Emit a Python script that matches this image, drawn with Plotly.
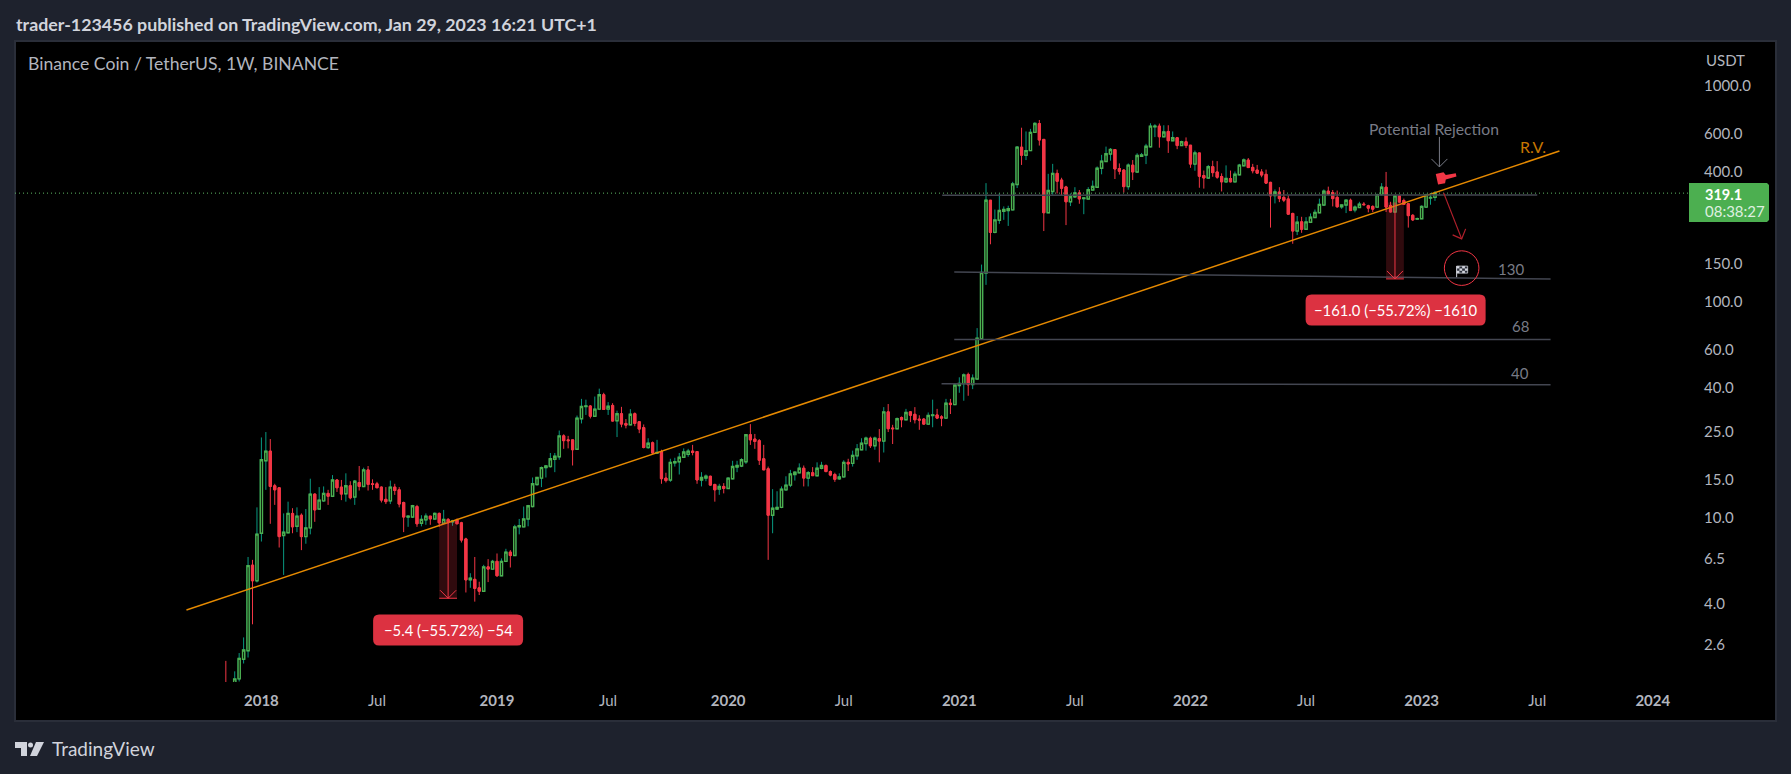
import math
import pandas as pd
import plotly.graph_objects as go

## weekly BNB/USDT candles, first bar is the week of 2017-11-06
dates = pd.date_range("2017-11-06", periods=273, freq="7D")

opens = [
    1.70, 1.50, 1.62, 1.80, 2.22, 2.43, 6.05, 5.12, 8.50, 18.4,
    20.4, 14.1, 13.8, 8.30, 8.55, 10.5, 9.15, 10.3, 8.20, 9.00,
    12.9, 11.0, 12.0, 13.0, 12.6, 15.0, 13.9, 12.95, 14.1, 12.5,
    14.6, 14.0, 16.7, 14.4, 14.4, 13.9, 12.2, 12.0, 13.9, 13.5,
    11.8, 10.1, 10.1, 11.3, 9.45, 9.80, 10.2, 9.90, 10.5, 9.45,
    9.85, 9.60, 9.80, 9.50, 8.00, 5.17, 5.20, 4.75, 4.58, 5.94,
    5.80, 6.30, 5.40, 6.30, 6.95, 6.70, 9.10, 9.10, 9.90, 11.3,
    14.3, 15.3, 17.1, 17.3, 18.7, 19.2, 24.0, 23.0, 23.0, 20.8,
    28.8, 32.8, 33.0, 29.6, 31.9, 37.2, 31.9, 33.2, 28.2, 30.4,
    27.4, 27.0, 30.4, 27.9, 26.2, 21.2, 22.3, 20.0, 20.3, 15.3,
    15.0, 18.0, 18.2, 19.1, 19.7, 20.4, 20.3, 15.0, 15.3, 15.6,
    14.3, 13.6, 14.0, 13.7, 15.2, 17.2, 17.4, 18.2, 24.3, 23.2,
    22.8, 18.8, 16.9, 10.3, 11.0, 11.2, 13.5, 14.2, 15.9, 16.2,
    17.0, 15.3, 16.2, 15.7, 17.0, 17.5, 16.4, 15.9, 15.2, 15.5,
    18.1, 17.9, 19.4, 20.7, 22.1, 23.4, 21.6, 23.3, 22.7, 31.0,
    26.1, 25.9, 29.2, 28.5, 31.0, 30.2, 28.7, 28.7, 27.2, 29.8,
    30.0, 29.4, 29.0, 34.0, 33.5, 41.0, 41.9, 46.2, 41.5, 44.0,
    67.6, 136, 296, 210, 239, 263, 265, 267, 350, 521,
    478, 502, 610, 670, 566, 259, 325, 394, 367, 341,
    291, 307, 320, 301, 300, 330, 340, 416, 447, 484,
    508, 415, 408, 342, 430, 400, 472, 479, 523, 648,
    652, 582, 616, 558, 576, 530, 552, 532, 435, 490,
    385, 375, 423, 400, 381, 360, 373, 360, 388, 427,
    454, 420, 408, 400, 390, 358, 311, 323, 305, 300,
    257, 213, 235, 217, 234, 246, 259, 281, 326, 321,
    305, 276, 281, 296, 267, 274, 284, 279, 277, 275,
    314, 340, 280, 261, 310, 295, 285, 252, 242, 243,
    275, 303, 305,
]
highs = [
    2.18, 1.70, 1.95, 2.37, 2.80, 6.60, 6.40, 11.2, 23.6, 25.0,
    23.2, 14.4, 13.9, 10.5, 11.9, 11.1, 11.2, 10.5, 11.0, 15.2,
    13.0, 13.9, 14.0, 13.5, 15.8, 15.1, 15.0, 16.1, 14.8, 15.0,
    17.4, 17.1, 17.4, 15.1, 14.7, 14.0, 13.9, 14.9, 14.4, 13.9,
    11.9, 10.2, 11.5, 11.5, 10.3, 10.5, 10.2, 10.6, 10.6, 10.9,
    10.0, 9.80, 9.95, 9.60, 8.10, 5.55, 6.60, 5.07, 6.07, 6.45,
    6.40, 6.85, 6.50, 7.20, 7.10, 9.30, 9.90, 11.3, 11.5, 15.4,
    15.5, 17.3, 17.6, 20.0, 20.0, 25.4, 24.4, 24.0, 23.0, 29.8,
    35.6, 35.3, 33.3, 36.5, 39.7, 38.0, 34.4, 34.0, 31.4, 32.7,
    28.7, 31.9, 30.8, 28.0, 27.1, 23.4, 22.6, 23.0, 20.7, 16.2,
    18.8, 19.0, 20.0, 21.0, 20.9, 21.8, 20.3, 16.3, 15.9, 15.7,
    14.4, 14.4, 14.5, 15.4, 18.4, 18.4, 18.9, 24.4, 27.2, 24.5,
    23.2, 21.8, 17.3, 13.6, 13.3, 14.0, 15.6, 16.7, 16.4, 17.9,
    17.5, 16.5, 17.2, 18.1, 18.2, 17.7, 16.6, 16.2, 16.1, 18.5,
    18.8, 20.5, 22.0, 23.4, 23.8, 23.8, 23.8, 25.8, 32.6, 33.7,
    27.0, 29.2, 29.5, 32.0, 31.2, 32.6, 29.9, 29.0, 30.8, 35.3,
    32.0, 29.9, 35.6, 35.6, 42.0, 44.8, 46.7, 47.1, 46.2, 75.7,
    149, 355, 296, 268, 318, 277, 279, 360, 527, 641,
    616, 633, 680, 696, 566, 392, 436, 410, 376, 345,
    318, 340, 330, 305, 340, 365, 424, 480, 524, 516,
    508, 438, 412, 438, 454, 488, 490, 540, 672, 665,
    670, 658, 658, 616, 581, 558, 578, 532, 502, 490,
    406, 431, 451, 449, 394, 429, 406, 402, 436, 462,
    464, 436, 431, 412, 410, 360, 332, 340, 330, 312,
    259, 250, 248, 247, 257, 268, 301, 332, 342, 330,
    328, 282, 298, 301, 280, 291, 290, 282, 280, 317,
    355, 400, 291, 313, 312, 301, 287, 255, 246, 280,
    317, 319, 326,
]
lows = [
    1.30, 1.25, 1.55, 1.75, 2.12, 2.26, 3.22, 5.03, 7.78, 13.5,
    9.40, 11.5, 7.30, 5.45, 8.50, 8.50, 8.60, 7.10, 7.60, 8.40,
    9.60, 10.9, 11.9, 11.5, 12.5, 13.2, 12.1, 11.9, 12.2, 11.5,
    13.4, 13.9, 13.4, 13.5, 13.8, 11.8, 11.6, 11.6, 12.8, 11.2,
    8.60, 9.10, 10.0, 9.10, 9.15, 9.30, 9.30, 9.85, 9.10, 9.40,
    9.40, 9.20, 9.40, 7.70, 4.52, 4.75, 4.10, 4.40, 4.55, 5.05,
    5.80, 5.35, 5.40, 6.25, 5.90, 6.70, 8.40, 9.10, 9.15, 11.2,
    14.1, 13.9, 15.4, 17.1, 16.3, 18.6, 20.9, 21.0, 17.5, 20.7,
    27.4, 30.0, 28.9, 29.5, 31.6, 31.7, 30.0, 28.0, 23.7, 26.3,
    26.0, 26.9, 26.6, 24.7, 21.0, 20.9, 19.8, 19.8, 14.4, 14.6,
    14.7, 17.3, 15.9, 19.0, 19.2, 19.5, 14.4, 14.0, 14.8, 14.1,
    11.9, 12.8, 13.0, 13.7, 15.1, 16.3, 17.2, 17.8, 21.8, 20.9,
    17.6, 16.7, 6.40, 8.50, 10.9, 11.1, 13.4, 13.9, 14.9, 16.1,
    14.0, 14.0, 15.7, 15.6, 16.8, 16.3, 15.6, 14.7, 15.0, 15.4,
    16.5, 17.3, 18.6, 20.6, 20.5, 21.1, 20.7, 18.1, 20.1, 25.0,
    22.0, 25.8, 26.3, 28.4, 27.8, 27.4, 25.6, 27.0, 27.1, 26.3,
    28.7, 26.6, 28.9, 30.3, 33.3, 38.0, 34.9, 36.8, 39.5, 43.8,
    67.0, 120, 185, 208, 230, 240, 225, 266, 337, 431,
    454, 500, 610, 530, 213, 258, 314, 318, 312, 227,
    278, 303, 285, 255, 300, 330, 338, 390, 445, 451,
    371, 389, 321, 331, 367, 397, 469, 435, 520, 580,
    518, 582, 490, 556, 510, 528, 516, 418, 405, 338,
    335, 372, 380, 372, 325, 356, 358, 358, 386, 426,
    417, 394, 394, 378, 353, 221, 286, 290, 290, 254,
    186, 204, 209, 216, 232, 245, 258, 279, 312, 277,
    273, 270, 258, 265, 260, 273, 281, 260, 261, 274,
    312, 261, 260, 260, 289, 282, 221, 237, 241, 242,
    274, 282, 294,
]
closes = [
    1.50, 1.60, 1.80, 2.24, 2.45, 6.02, 5.12, 8.42, 18.6, 20.4,
    14.0, 13.5, 8.20, 8.60, 10.5, 9.10, 10.2, 8.20, 9.00, 12.9,
    10.9, 12.1, 13.0, 12.6, 15.0, 13.8, 12.9, 14.1, 12.4, 14.8,
    14.0, 16.7, 14.3, 14.3, 13.8, 12.1, 11.9, 13.9, 13.4, 11.6,
    10.1, 10.2, 11.4, 9.40, 9.85, 10.2, 9.90, 10.5, 9.50, 9.85,
    9.60, 9.70, 9.40, 7.90, 5.17, 5.27, 4.72, 4.58, 5.94, 5.80,
    6.30, 5.40, 6.30, 6.95, 6.70, 9.10, 9.20, 9.90, 11.4, 14.4,
    15.4, 17.1, 17.4, 18.8, 19.3, 24.0, 22.8, 22.8, 20.7, 29.0,
    32.8, 33.0, 29.6, 31.9, 37.2, 31.8, 32.9, 28.1, 30.4, 27.2,
    26.9, 30.2, 27.4, 25.8, 21.2, 22.2, 20.0, 20.1, 15.2, 14.9,
    18.1, 18.2, 19.1, 20.2, 20.4, 20.1, 15.0, 15.4, 15.6, 14.2,
    13.5, 14.0, 13.7, 15.3, 17.3, 17.5, 18.6, 24.3, 23.0, 22.6,
    18.5, 16.7, 10.3, 11.1, 11.2, 13.6, 14.2, 16.0, 16.3, 17.0,
    15.3, 16.2, 15.7, 17.0, 17.5, 16.4, 15.8, 15.1, 15.5, 18.1,
    17.8, 19.5, 20.9, 22.2, 23.4, 21.6, 23.4, 22.7, 31.0, 25.9,
    25.9, 28.8, 28.5, 30.8, 29.9, 28.5, 28.4, 27.2, 29.8, 30.0,
    29.0, 29.0, 34.0, 33.5, 41.3, 42.0, 46.0, 41.4, 44.4, 67.9,
    137, 296, 210, 240, 265, 268, 270, 352, 521, 478,
    502, 610, 670, 562, 259, 328, 394, 362, 336, 291,
    307, 320, 300, 303, 331, 343, 416, 449, 486, 508,
    413, 403, 342, 430, 400, 477, 480, 526, 652, 652,
    582, 612, 558, 576, 530, 552, 530, 435, 490, 382,
    375, 423, 397, 378, 360, 373, 360, 390, 430, 454,
    419, 405, 395, 387, 355, 310, 323, 301, 296, 255,
    213, 234, 217, 235, 247, 260, 283, 326, 316, 301,
    276, 281, 296, 265, 275, 284, 282, 272, 269, 314,
    340, 275, 261, 310, 290, 283, 251, 240, 243, 277,
    314, 305, 319.1,
]

## axis ticks
date_ticks = ["2018-01-01", "2018-07-02", "2019-01-07", "2019-07-01", "2020-01-06", "2020-07-06", "2021-01-04",
              "2021-07-05", "2022-01-03", "2022-07-04", "2023-01-02", "2023-07-03", "2024-01-01"]
date_labels = ["<b>2018</b>", "Jul", "<b>2019</b>", "Jul", "<b>2020</b>", "Jul", "<b>2021</b>",
               "Jul", "<b>2022</b>", "Jul", "<b>2023</b>", "Jul", "<b>2024</b>"]
price_ticks = [2.6, 4, 6.5, 10, 15, 25, 40, 60, 100, 150, 400, 600, 1000]
price_labels = ["2.6", "4.0", "6.5", "10.0", "15.0", "25.0", "40.0", "60.0", "100.0", "150.0", "400.0", "600.0", "1000.0"]

## drawings on the chart
last_price = 319.1
trend_dates = ["2017-09-05", "2023-08-07"]
trend_prices = [3.75, 500]
level_dates = [["2020-12-08", "2023-07-03"], ["2020-12-27", "2023-07-24"], ["2020-12-27", "2023-07-24"], ["2020-12-07", "2023-07-24"]]
level_prices = [[312, 313], [137.7, 127.8], [67.1, 67.1], [41.8, 41.4]]
measure_dates = [["2018-10-08", "2018-11-05"], ["2022-11-07", "2022-12-05"]]
measure_prices = [[9.6, 4.25], [288.9, 127.9]]
measure_labels = ["\u22125.4 (\u221255.72%) \u221254", "\u2212161.0 (\u221255.72%) \u22121610"]
measure_label_dates = ["2018-10-22", "2022-11-22"]
measure_label_prices = [3.03, 91.9]
measure_label_widths = [150, 180]

BG = "#1e222d"
FONT = "Lato"
GREEN = "#4caf50"
TEAL = "#089981"
RED = "#f23645"

## page geometry, plot area and the black pane around it
W, H = 1791, 774
L, R, T, B = 15, 1689, 41, 682


def px(x):
    return (x - L) / (R - L)


def py(y):
    return (B - y) / (B - T)


def pix_shape(xa, ya, points, close=False, **kw):
    # path given in pixels around a date/price anchor
    path = "M" + " L".join(f"{a} {b}" for a, b in points) + (" Z" if close else "")
    return dict(type="path", path=path, xref="x", yref="y", xsizemode="pixel", ysizemode="pixel",
                xanchor=xa, yanchor=ya, **kw)


def rounded(w, h, r):
    x, y = w / 2, h / 2
    return (f"M{-x+r} {y} L{x-r} {y} Q{x} {y} {x} {y-r} L{x} {-y+r} Q{x} {-y} {x-r} {-y} "
            f"L{-x+r} {-y} Q{-x} {-y} {-x} {-y+r} L{-x} {y-r} Q{-x} {y} {-x+r} {y} Z")


def ring(r):
    k = 0.5523 * r
    return (f"M{r} 0 C{r} {k} {k} {r} 0 {r} C{-k} {r} {-r} {k} {-r} 0 "
            f"C{-r} {-k} {-k} {-r} 0 {-r} C{k} {-r} {r} {-k} {r} 0 Z")


fig = go.Figure()

## teal wicks first, then bodies with the green outline on top of them
fig.add_trace(go.Candlestick(
    x=dates, open=opens, high=highs, low=lows, close=closes, whiskerwidth=0,
    increasing=dict(line=dict(color=TEAL, width=1), fillcolor="rgba(0,0,0,0)"),
    decreasing=dict(line=dict(color=RED, width=1), fillcolor=RED),
    hoverinfo="skip", showlegend=False))
fig.add_trace(go.Candlestick(
    x=dates, open=opens, close=closes, whiskerwidth=0,
    high=[max(a, b) for a, b in zip(opens, closes)],
    low=[min(a, b) for a, b in zip(opens, closes)],
    increasing=dict(line=dict(color=GREEN, width=1.4), fillcolor="#000000"),
    decreasing=dict(line=dict(color=RED, width=1), fillcolor=RED),
    hoverinfo="skip", showlegend=False))

fig.add_trace(go.Scatter(x=trend_dates, y=trend_prices, mode="lines", hoverinfo="skip", showlegend=False,
                         line=dict(color="#e68a00", width=1.5)))

shapes = []

## black pane with its thin border
shapes.append(dict(type="rect", xref="paper", yref="paper", x0=px(15), x1=px(1776), y0=py(41), y1=py(721),
                   fillcolor="#000000", line=dict(color="#2a2e39", width=2), layer="below"))

## last price line
shapes.append(dict(type="line", xref="paper", yref="y", x0=0, x1=1, y0=last_price, y1=last_price,
                   line=dict(color="#5fb864", width=1, dash="1px,3px")))

for d, p in zip(level_dates, level_prices):
    shapes.append(dict(type="line", xref="x", yref="y", x0=d[0], x1=d[1], y0=p[0], y1=p[1],
                       line=dict(color="#434651", width=1.5)))

for d, p in zip(measure_dates, measure_prices):
    shapes.append(dict(type="rect", xref="x", yref="y", x0=d[0], x1=d[1], y0=p[0], y1=p[1],
                       fillcolor="rgba(242,54,69,0.2)", line=dict(width=0)))
    mid = pd.Timestamp(d[0]) + (pd.Timestamp(d[1]) - pd.Timestamp(d[0])) / 2
    shapes.append(dict(type="line", xref="x", yref="y", x0=mid, x1=mid, y0=p[0], y1=p[1],
                       line=dict(color=RED, width=1)))
    shapes.append(dict(type="line", xref="x", yref="y", x0=d[0], x1=d[1], y0=p[1], y1=p[1],
                       line=dict(color=RED, width=1)))
    shapes.append(pix_shape(mid, p[1], [(-8, 8), (0, 0), (8, 8)], line=dict(color=RED, width=1)))

for d, p, w in zip(measure_label_dates, measure_label_prices, measure_label_widths):
    shapes.append(dict(type="path", path=rounded(w, 31, 6), xref="x", yref="y", xsizemode="pixel", ysizemode="pixel",
                       xanchor=d, yanchor=p, fillcolor="#dc3241", line=dict(width=0)))

## gray arrow under the note
shapes.append(pix_shape("2023-01-30", 422, [(0, 30), (0, 0)], line=dict(color="#787b86", width=1)))
shapes.append(pix_shape("2023-01-30", 422, [(-8, 8), (0, 0), (8, 8)], line=dict(color="#787b86", width=1)))

## red flag icon
shapes.append(pix_shape("2023-02-09", 370,
                        [(-10, 5.3), (-2.3, 7), (0, 4.3), (10, 6), (10.7, 2.7), (0, -0.3), (-0.7, -4), (-7.7, -5.3)],
                        close=True, fillcolor=RED, line=dict(width=0)))

## projected move arrow
shapes.append(pix_shape("2023-03-06", 196, [(-18, 46), (0, 0)], line=dict(color="#b2202c", width=1.2)))
shapes.append(pix_shape("2023-03-06", 196, [(-9, 4), (0, 0), (4, 10)], line=dict(color="#b2202c", width=1.2)))

## circle and chequered flag at the target
shapes.append(dict(type="path", path=ring(17.3), xref="x", yref="y", xsizemode="pixel", ysizemode="pixel",
                   xanchor="2023-03-06", yanchor=143.5, line=dict(color=RED, width=1)))
shapes.append(pix_shape("2023-03-06", 143.5, [(-5, 2), (-5, -9)], line=dict(color="#d1d4dc", width=1)))
shapes.append(pix_shape("2023-03-06", 143.5, [(-5, 2), (6, 2), (6, -5), (-5, -5)], close=True,
                        fillcolor="#2a2e39", line=dict(color="#d1d4dc", width=0.8)))
for col in range(4):
    for row in range(3):
        if (col + row) % 2 == 0:
            x0, y0 = -5 + col * 2.75, 2 - row * 2.33
            shapes.append(pix_shape("2023-03-06", 143.5,
                                    [(x0, y0), (x0 + 2.75, y0), (x0 + 2.75, y0 - 2.33), (x0, y0 - 2.33)],
                                    close=True, fillcolor="#d1d4dc", line=dict(width=0)))

## green price tag
shapes.append(dict(type="path", xref="paper", yref="paper", layer="above", fillcolor=GREEN, line=dict(width=0),
                   path=f"M{px(1689)} {py(183)} L{px(1767)} {py(183)} L{px(1769)} {py(185)} L{px(1769)} {py(220)} "
                        f"L{px(1767)} {py(222)} L{px(1689)} {py(222)} Z"))

## TradingView mark
shapes.append(dict(type="path", xref="paper", yref="paper", fillcolor="#d1d4dc", line=dict(width=0),
                   path=f"M{px(15)} {py(742)} L{px(27)} {py(742)} L{px(27)} {py(756)} L{px(21)} {py(756)} L{px(21)} {py(748)} L{px(15)} {py(748)} Z"))
shapes.append(dict(type="circle", xref="paper", yref="paper", fillcolor="#d1d4dc", line=dict(width=0),
                   x0=px(28), x1=px(33), y0=py(747.5), y1=py(742.5)))
shapes.append(dict(type="path", xref="paper", yref="paper", fillcolor="#d1d4dc", line=dict(width=0),
                   path=f"M{px(36)} {py(742)} L{px(44)} {py(742)} L{px(37)} {py(756)} L{px(30)} {py(756)} Z"))

notes = []


def note_px(text, x, y, size, color, anchor="left", weight=False):
    notes.append(dict(text=f"<b>{text}</b>" if weight else text, xref="paper", yref="paper", x=px(x), y=py(y),
                      xanchor=anchor, yanchor="middle", showarrow=False, font=dict(family=FONT, size=size, color=color)))


def note_data(text, date, price, size, color):
    notes.append(dict(text=text, xref="x", yref="y", x=date, y=math.log10(price), xanchor="center", yanchor="middle",
                      showarrow=False, font=dict(family=FONT, size=size, color=color)))


note_px("trader-123456 published on TradingView.com, Jan 29, 2023 16:21 UTC+1", 14, 24, 17.8, "#d1d4dc", weight=True)
note_px("Binance Coin / TetherUS, 1W, BINANCE", 26, 64, 17.6, "#b2b5be")
note_px("USDT", 1704, 60, 15, "#b2b5be")
note_px("<b>319.1</b>", 1703, 194, 14.5, "#ffffff")
note_px("08:38:27", 1703, 211, 15, "#dff0e0")
note_px("TradingView", 50, 749, 19, "#d1d4dc")

note_data("Potential Rejection", "2023-01-22", 632, 15.7, "#787b86")
note_data("R.V.", "2023-06-27", 527, 16, "#c77700")
note_data("130", "2023-05-23", 142, 15, "#787b86")
note_data("68", "2023-06-07", 77.4, 15, "#787b86")
note_data("40", "2023-06-06", 46.9, 15, "#787b86")
for t, d, p in zip(measure_labels, measure_label_dates, measure_label_prices):
    note_data(t, d, p, 14.8, "#ffffff")

fig.update_layout(
    width=W, height=H, autosize=False, paper_bgcolor=BG, plot_bgcolor="#000000",
    margin=dict(l=L, r=W - R, t=T, b=H - B, pad=0),
    hovermode=False, showlegend=False, dragmode=False,
    shapes=shapes, annotations=notes,
    font=dict(family=FONT),
    xaxis=dict(type="date", range=["2016-12-09", "2024-02-27"], rangeslider=dict(visible=False),
               tickmode="array", tickvals=date_ticks, ticktext=date_labels,
               tickfont=dict(family=FONT, size=15, color="#b2b5be"),
               showgrid=False, zeroline=False, showline=False, ticks="outside", ticklen=5, tickcolor="#000000"),
    yaxis=dict(type="log", side="right", range=[0.2407, 3.2083],
               tickmode="array", tickvals=price_ticks, ticktext=price_labels,
               tickfont=dict(family=FONT, size=15, color="#b2b5be"),
               showgrid=False, zeroline=False, showline=False, ticks="outside", ticklen=11, tickcolor="#000000"),
)

fig.write_html("out.html", config=dict(displayModeBar=False),
               post_script="document.body.style.margin='0';document.body.style.overflow='hidden';")
